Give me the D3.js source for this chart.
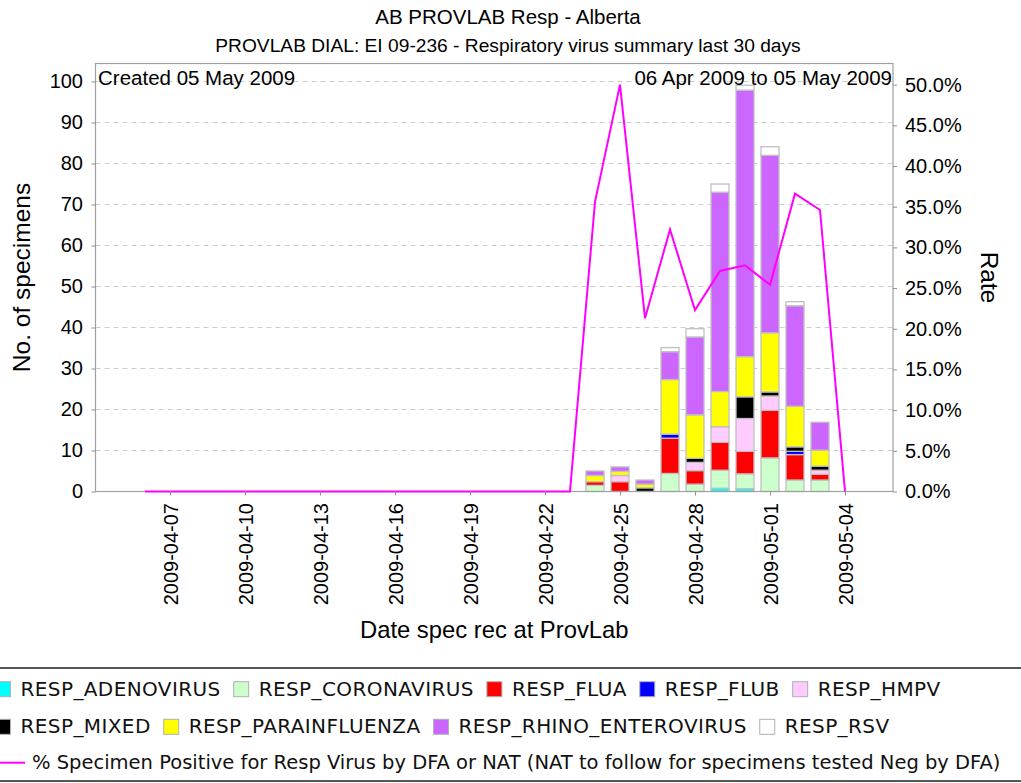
<!DOCTYPE html>
<html>
<head>
<meta charset="utf-8">
<script src="https://cdn.jsdelivr.net/npm/d3@7"></script>
<style>
body { margin:0; background:#fff; }
svg { display:block; font-family:"Liberation Sans", Arial, sans-serif; }
</style>
</head>
<body>
<div id="chart"></div>
<script>

// dates that have bars
var barDates = ["2009-04-24","2009-04-25","2009-04-26","2009-04-27","2009-04-28",
	"2009-04-29","2009-04-30","2009-05-01","2009-05-02","2009-05-03"];

// number of specimens per virus, one value per bar date
var adenovirus    = [0,   0,   0,   0,    0,    0.8,  0.7,  0,    0,    0];
var coronavirus   = [1.5, 0,   0,   4.4,  1.8,  4.4,  3.6,  8.2,  2.8,  2.8];
var flua          = [0.9, 2.4, 0,   8.6,  3.3,  6.8,  5.5,  11.6, 6.2,  1.4];
var flub          = [0,   0,   0,   1.0,  0,    0,    0,    0,    0.8,  0];
var hmpv          = [0,   1.5, 0,   0,    2.0,  3.8,  8.0,  3.5,  0,    1.0];
var mixed         = [0,   0,   0.9, 0,    1.0,  0,    5.3,  1.0,  1.1,  1.0];
var parainfluenza = [1.5, 1.0, 0.9, 13.3, 10.6, 8.6,  9.8,  14.4, 9.9,  3.9];
var rhino         = [1.1, 1.1, 1.0, 6.8,  19.0, 48.6, 65.0, 43.3, 24.5, 6.8];
var rsv           = [0,   0,   0,   1.0,  2.0,  2.0,  1.2,  2.1,  1.0,  0];

// % positive line
var rateDates = ["2009-04-06","2009-04-07","2009-04-08","2009-04-09","2009-04-10",
	"2009-04-11","2009-04-12","2009-04-13","2009-04-14","2009-04-15","2009-04-16",
	"2009-04-17","2009-04-18","2009-04-19","2009-04-20","2009-04-21","2009-04-22",
	"2009-04-23","2009-04-24","2009-04-25","2009-04-26","2009-04-27","2009-04-28",
	"2009-04-29","2009-04-30","2009-05-01","2009-05-02","2009-05-03","2009-05-04"];
var rateValues = [0,0,0,0,0,0,0,0,0,0,0,0,0,0,0,0,0,0,
	35.6, 50.0, 21.3, 32.2, 22.3, 27.1, 27.8, 25.4, 36.6, 34.6, 0];

// tick labels
var xTickLabels = ["2009-04-07","2009-04-10","2009-04-13","2009-04-16","2009-04-19",
	"2009-04-22","2009-04-25","2009-04-28","2009-05-01","2009-05-04"];
var yTicks = [0,10,20,30,40,50,60,70,80,90,100];
var rateTicks = [0,5,10,15,20,25,30,35,40,45,50];

var seriesNames = ["RESP_ADENOVIRUS","RESP_CORONAVIRUS","RESP_FLUA","RESP_FLUB","RESP_HMPV",
	"RESP_MIXED","RESP_PARAINFLUENZA","RESP_RHINO_ENTEROVIRUS","RESP_RSV"];
var seriesColors = ["#00ffff","#ccffcc","#ff0000","#0000ff","#ffccff",
	"#000000","#ffff00","#cc66ff","#ffffff"];
var lineName = "% Specimen Positive for Resp Virus by DFA or NAT (NAT to follow for specimens tested Neg by DFA)";

var parseDate = d3.timeParse("%Y-%m-%d");

// build the table for d3.stack
var seriesValues = [adenovirus, coronavirus, flua, flub, hmpv, mixed, parainfluenza, rhino, rsv];
var table = barDates.map(function(d, i){
	var row = {date: parseDate(d)};
	seriesNames.forEach(function(name, k){ row[name] = seriesValues[k][i]; });
	return row;
});
var stacked = d3.stack().keys(seriesNames)(table);

var width = 1021, height = 783;
var plot = {left:95.5, right:893, top:63.5, bottom:491.5};

var svg = d3.select("#chart").append("svg")
	.attr("width", width)
	.attr("height", height);

//scales
var xScale = d3.scaleTime()
	.domain([parseDate("2009-04-04"), parseDate("2009-05-06")])
	.range([95, 895]);

var yScale = d3.scaleLinear()
	.domain([0, 104.4])
	.range([plot.bottom, plot.top]);

var rateScale = d3.scaleLinear()
	.domain([0, 52.6])
	.range([plot.bottom, plot.top]);

var barWidth = 18;

//titles
svg.append("text")
	.attr("x", 508).attr("y", 24)
	.attr("text-anchor", "middle")
	.style("font-size", "20.5px")
	.text("AB PROVLAB Resp - Alberta");

svg.append("text")
	.attr("x", 508).attr("y", 52)
	.attr("text-anchor", "middle")
	.style("font-size", "19.2px")
	.text("PROVLAB DIAL: EI 09-236 - Respiratory virus summary last 30 days");

//gridlines
svg.append("g")
	.selectAll("line")
	.data(yTicks.slice(1))
	.enter()
	.append("line")
	.attr("x1", plot.left).attr("x2", plot.right)
	.attr("y1", function(d){ return yScale(d); })
	.attr("y2", function(d){ return yScale(d); })
	.attr("stroke", "#cccccc")
	.attr("stroke-width", 1)
	.attr("stroke-dasharray", "5,4");

//stacked bars
svg.append("g")
	.selectAll("g")
	.data(stacked)
	.enter()
	.append("g")
	.attr("fill", function(d, i){ return seriesColors[i]; })
	.selectAll("rect")
	.data(function(d){ return d.filter(function(p){ return p[1] - p[0] > 0; }); })
	.enter()
	.append("rect")
	.attr("x", function(d){ return xScale(d.data.date) - barWidth/2; })
	.attr("width", barWidth)
	.attr("y", function(d){ return yScale(d[1]); })
	.attr("height", function(d){ return yScale(d[0]) - yScale(d[1]); })
	.attr("stroke", "#c0c0c0")
	.attr("stroke-width", 1.3);

//plot frame
svg.append("rect")
	.attr("x", plot.left).attr("y", plot.top)
	.attr("width", plot.right - plot.left)
	.attr("height", plot.bottom - plot.top)
	.attr("fill", "none")
	.attr("stroke", "#a0a0a0")
	.attr("stroke-width", 1.2);

//rate line
var line = d3.line()
	.x(function(d, i){ return xScale(parseDate(rateDates[i])); })
	.y(function(d){ return rateScale(d); });

svg.append("path")
	.datum(rateValues)
	.attr("fill", "none")
	.attr("stroke", "#ff00ff")
	.attr("stroke-width", 2)
	.attr("stroke-linejoin", "miter")
	.attr("d", line);

//axes
var yAxis = d3.axisLeft(yScale).tickValues(yTicks).tickSize(4).tickPadding(8.5);
var gy = svg.append("g")
	.attr("transform", "translate(" + plot.left + ",0)")
	.call(yAxis);

var rAxis = d3.axisRight(rateScale).tickValues(rateTicks).tickSize(4).tickPadding(8)
	.tickFormat(function(d){ return d.toFixed(1) + "%"; });
var gr = svg.append("g")
	.attr("transform", "translate(" + plot.right + ",0)")
	.call(rAxis);

var xAxis = d3.axisBottom(xScale)
	.tickValues(xTickLabels.map(parseDate))
	.tickSize(4)
	.tickFormat(d3.timeFormat("%Y-%m-%d"));
var gx = svg.append("g")
	.attr("transform", "translate(0," + plot.bottom + ")")
	.call(xAxis);

gx.selectAll(".tick text")
	.attr("transform", "rotate(-90)")
	.attr("x", -11.5)
	.attr("y", 0)
	.attr("dy", "0.36em")
	.attr("text-anchor", "end");

[gy, gr, gx].forEach(function(g){
	g.select(".domain").remove();
	g.selectAll(".tick line").attr("stroke", "#909090");
	g.selectAll(".tick text")
		.attr("fill", "#000")
		.style("font-size", "20px")
		.style("font-family", "'Liberation Sans', Arial, sans-serif");
});

//axis labels
svg.append("text")
	.attr("x", (plot.left + plot.right)/2).attr("y", 638)
	.attr("text-anchor", "middle")
	.style("font-size", "23.8px")
	.text("Date spec rec at ProvLab");

svg.append("text")
	.attr("transform", "translate(30," + (plot.top + plot.bottom)/2 + ") rotate(-90)")
	.attr("text-anchor", "middle")
	.style("font-size", "24.5px")
	.text("No. of specimens");

svg.append("text")
	.attr("transform", "translate(981," + (plot.top + plot.bottom)/2 + ") rotate(90)")
	.attr("text-anchor", "middle")
	.style("font-size", "24.5px")
	.text("Rate");

//notes inside the plot
svg.append("text")
	.attr("x", 98).attr("y", 85)
	.style("font-size", "20.5px")
	.text("Created 05 May 2009");

svg.append("text")
	.attr("x", 892).attr("y", 85)
	.attr("text-anchor", "end")
	.style("font-size", "20.5px")
	.text("06 Apr 2009 to 05 May 2009");

//legend
var legend = svg.append("g")
	.style("font-family", "'DejaVu Sans', Verdana, sans-serif");
legend.append("line")
	.attr("x1", 0).attr("x2", width).attr("y1", 668).attr("y2", 668)
	.attr("stroke", "#555").attr("stroke-width", 2);
legend.append("line")
	.attr("x1", 0).attr("x2", width).attr("y1", 781).attr("y2", 781)
	.attr("stroke", "#555").attr("stroke-width", 2);

var legendRows = [[0,1,2,3,4],[5,6,7,8]];
var rowBaselines = [695.7, 733.3];
legendRows.forEach(function(row, r){
	var x = -4.5;
	row.forEach(function(k){
		legend.append("rect")
			.attr("x", x).attr("y", rowBaselines[r] - 14)
			.attr("width", 15).attr("height", 15)
			.attr("fill", seriesColors[k])
			.attr("stroke", "#b0b0b0")
			.attr("stroke-width", 1);
		var t = legend.append("text")
			.attr("x", x + 25).attr("y", rowBaselines[r])
			.style("font-size", "20px")
			.style("letter-spacing", "0.4px")
			.attr("fill", "#111")
			.text(seriesNames[k]);
		x = x + 25 + t.node().getComputedTextLength() + 13;
	});
});

legend.append("line")
	.attr("x1", 0).attr("x2", 25).attr("y1", 762.7).attr("y2", 762.7)
	.attr("stroke", "#ff00ff").attr("stroke-width", 2);
legend.append("text")
	.attr("x", 32).attr("y", 769)
	.style("font-size", "19.5px")
	.attr("fill", "#111")
	.text(lineName);

</script>
</body>
</html>
